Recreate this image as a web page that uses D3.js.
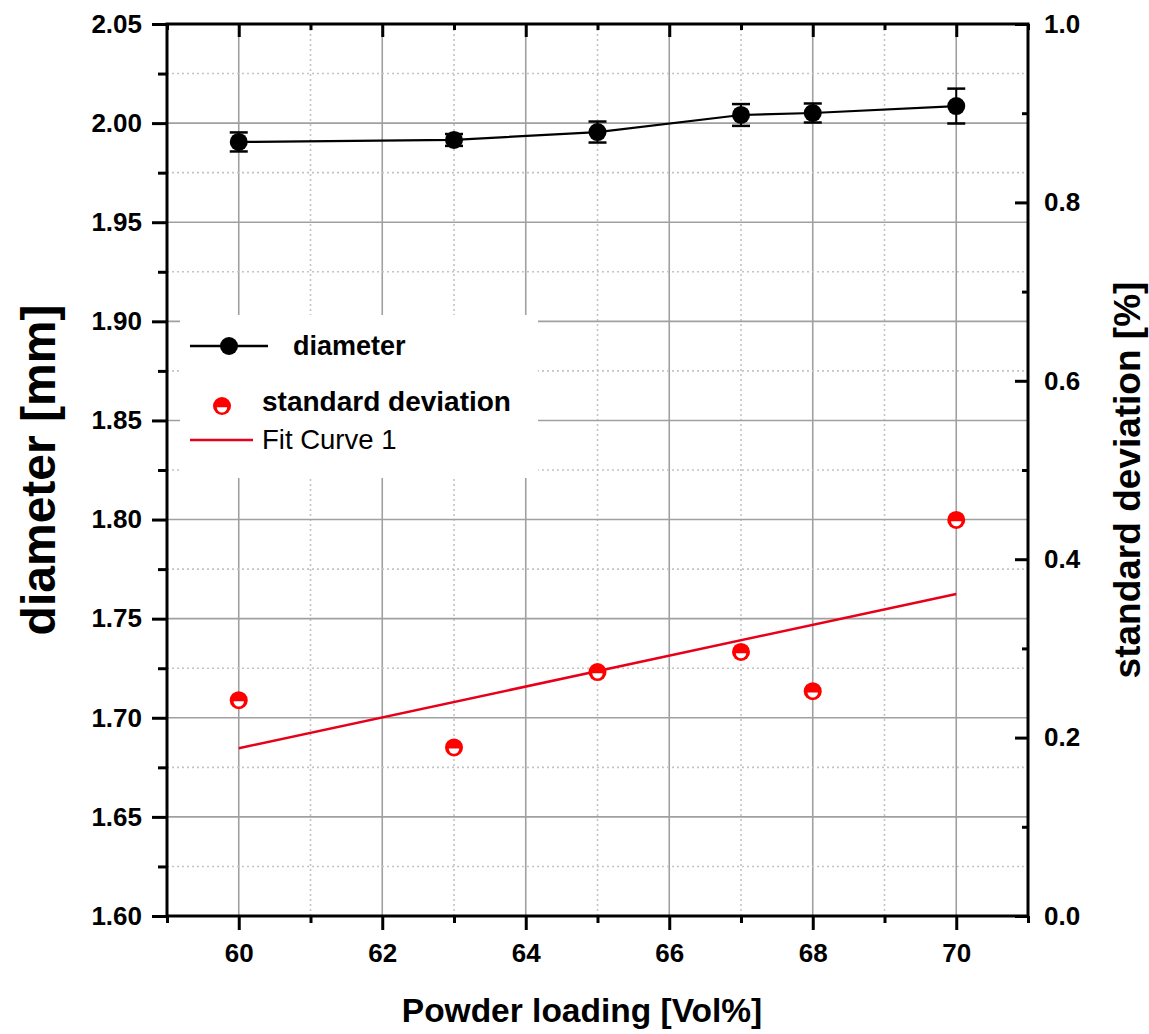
<!DOCTYPE html>
<html>
<head>
<meta charset="utf-8">
<script src="https://cdn.jsdelivr.net/npm/d3@7"></script>
<style>
  body { margin: 0; background: #fff; }
  svg { display: block; font-family: "Liberation Sans", Arial, sans-serif; }
</style>
</head>
<body>
<svg id="chart" width="1149" height="1034"></svg>
<script>
// ---- data ----
const loading = [60, 63, 65, 67, 68, 70];
const diameter = [1.9905, 1.9915, 1.9955, 2.0041, 2.0051, 2.0086];
const diameterErr = [0.0048, 0.0030, 0.0053, 0.0055, 0.0048, 0.0088];
const stdDev = [0.242, 0.189, 0.2735, 0.296, 0.252, 0.444];
const fitX = [60, 70];
const fitY = [0.188, 0.361];
const xMajorTicks = [60, 62, 64, 66, 68, 70];
const xMinorTicks = [59, 61, 63, 65, 67, 69, 71];
const yLeftMajorTicks = [1.60, 1.65, 1.70, 1.75, 1.80, 1.85, 1.90, 1.95, 2.00, 2.05];
const yLeftMinorTicks = [1.625, 1.675, 1.725, 1.775, 1.825, 1.875, 1.925, 1.975, 2.025];
const yRightMajorTicks = [0.0, 0.2, 0.4, 0.6, 0.8, 1.0];
const yRightMinorTicks = [0.1, 0.3, 0.5, 0.7, 0.9];

const svg = d3.select("#chart");
const L = 167, R = 1028, T = 24, B = 916;

const x = d3.scaleLinear().domain([59, 71]).range([L, R]);
const yL = d3.scaleLinear().domain([1.60, 2.05]).range([B, T]);
const yR = d3.scaleLinear().domain([0, 1]).range([B, T]);

// ---- grid ----
const grid = svg.append("g");
grid.selectAll(".vmaj").data(xMajorTicks).join("line")
  .attr("x1", d => x(d)).attr("x2", d => x(d)).attr("y1", T).attr("y2", B)
  .attr("stroke", "#a0a0a0").attr("stroke-width", 1.6);
grid.selectAll(".vmin").data(xMinorTicks.filter(d => d > 59 && d < 71)).join("line")
  .attr("x1", d => x(d)).attr("x2", d => x(d)).attr("y1", T).attr("y2", B)
  .attr("stroke", "#c4c4c4").attr("stroke-width", 1.6).attr("stroke-dasharray", "2,3");
grid.selectAll(".hmaj").data(yLeftMajorTicks.filter(d => d > 1.6 && d < 2.05)).join("line")
  .attr("y1", d => yL(d)).attr("y2", d => yL(d)).attr("x1", L).attr("x2", R)
  .attr("stroke", "#a0a0a0").attr("stroke-width", 1.6);
grid.selectAll(".hmin").data(yLeftMinorTicks).join("line")
  .attr("y1", d => yL(d)).attr("y2", d => yL(d)).attr("x1", L).attr("x2", R)
  .attr("stroke", "#c4c4c4").attr("stroke-width", 1.6).attr("stroke-dasharray", "2,3");

// ---- legend background (covers grid) ----
svg.append("rect").attr("x", 180).attr("y", 315).attr("width", 358).attr("height", 163)
  .attr("fill", "#fff");

// ---- axes ----
function styleAxis(g, fontSize) {
  g.select(".domain").remove();
  g.selectAll(".tick line").attr("stroke", "#000").attr("stroke-width", 3);
  g.selectAll(".tick text").attr("fill", "#000").attr("font-size", fontSize)
    .attr("font-weight", "bold").attr("font-family", "'Liberation Sans', Arial, sans-serif");
}
// left
svg.append("g").attr("transform", `translate(${L},0)`)
  .call(d3.axisLeft(yL).tickValues(yLeftMajorTicks).tickSize(15).tickPadding(10).tickFormat(d3.format(".2f")))
  .call(g => styleAxis(g, 26));
svg.append("g").attr("transform", `translate(${L},0)`)
  .call(d3.axisLeft(yL).tickValues(yLeftMinorTicks).tickSize(9).tickFormat(""))
  .call(g => styleAxis(g, 26));
// bottom
svg.append("g").attr("transform", `translate(0,${B})`)
  .call(d3.axisBottom(x).tickValues(xMajorTicks).tickSize(14).tickPadding(14).tickFormat(d3.format("d")))
  .call(g => styleAxis(g, 26));
svg.append("g").attr("transform", `translate(0,${B})`)
  .call(d3.axisBottom(x).tickValues(xMinorTicks).tickSize(7).tickFormat(""))
  .call(g => styleAxis(g, 26));
// top (inward)
svg.append("g").attr("transform", `translate(0,${T})`)
  .call(d3.axisTop(x).tickValues(xMajorTicks).tickSize(-13).tickFormat(""))
  .call(g => styleAxis(g, 26));
svg.append("g").attr("transform", `translate(0,${T})`)
  .call(d3.axisTop(x).tickValues(xMinorTicks).tickSize(-6).tickFormat(""))
  .call(g => styleAxis(g, 26));
// right (inward ticks, outside labels)
svg.append("g").attr("transform", `translate(${R},0)`)
  .call(d3.axisRight(yR).tickValues(yRightMajorTicks).tickSize(-13).tickPadding(16).tickFormat(d3.format(".1f")))
  .call(g => styleAxis(g, 26));
svg.append("g").attr("transform", `translate(${R},0)`)
  .call(d3.axisRight(yR).tickValues(yRightMinorTicks).tickSize(-6).tickFormat(""))
  .call(g => styleAxis(g, 26));

// frame
svg.append("rect").attr("x", L).attr("y", T).attr("width", R - L).attr("height", B - T)
  .attr("fill", "none").attr("stroke", "#000").attr("stroke-width", 3);

// ---- diameter series ----
const dia = loading.map((v, i) => ({ x: v, y: diameter[i], e: diameterErr[i] }));
svg.append("path").datum(dia)
  .attr("d", d3.line().x(d => x(d.x)).y(d => yL(d.y)))
  .attr("fill", "none").attr("stroke", "#000").attr("stroke-width", 2.2);
const eb = svg.append("g");
eb.selectAll(".ev").data(dia).join("line")
  .attr("x1", d => x(d.x)).attr("x2", d => x(d.x))
  .attr("y1", d => yL(d.y - d.e)).attr("y2", d => yL(d.y + d.e))
  .attr("stroke", "#000").attr("stroke-width", 2);
eb.selectAll(".ct").data(dia).join("line")
  .attr("x1", d => x(d.x) - 9).attr("x2", d => x(d.x) + 9)
  .attr("y1", d => yL(d.y + d.e)).attr("y2", d => yL(d.y + d.e))
  .attr("stroke", "#000").attr("stroke-width", 2.5);
eb.selectAll(".cb").data(dia).join("line")
  .attr("x1", d => x(d.x) - 9).attr("x2", d => x(d.x) + 9)
  .attr("y1", d => yL(d.y - d.e)).attr("y2", d => yL(d.y - d.e))
  .attr("stroke", "#000").attr("stroke-width", 2.5);
svg.append("g").selectAll("circle").data(dia).join("circle")
  .attr("cx", d => x(d.x)).attr("cy", d => yL(d.y)).attr("r", 9).attr("fill", "#000");

// ---- fit line ----
const fit = fitX.map((v, i) => ({ x: v, y: fitY[i] }));
svg.append("path").datum(fit)
  .attr("d", d3.line().x(d => x(d.x)).y(d => yR(d.y)))
  .attr("fill", "none").attr("stroke", "#e8001a").attr("stroke-width", 2.5);

// ---- std dev markers (half-filled) ----
function halfMarker(g) {
  g.append("circle").attr("r", 9).attr("fill", "#f00");
  g.append("path").attr("d", "M-5.2,1.2 A5.2,5.2 0 0 0 5.2,1.2 Z").attr("fill", "#fff");
}
const sd = loading.map((v, i) => ({ x: v, y: stdDev[i] }));
svg.append("g").selectAll("g").data(sd).join("g")
  .attr("transform", d => `translate(${x(d.x)},${yR(d.y)})`)
  .each(function () { halfMarker(d3.select(this)); });

// ---- legend ----
const lg = svg.append("g");
lg.append("line").attr("x1", 190).attr("x2", 268).attr("y1", 346).attr("y2", 346)
  .attr("stroke", "#000").attr("stroke-width", 2.5);
lg.append("circle").attr("cx", 229).attr("cy", 346).attr("r", 9).attr("fill", "#000");
lg.append("text").attr("x", 293).attr("y", 355).text("diameter")
  .attr("font-size", 27).attr("font-weight", "bold");
const lm = lg.append("g").attr("transform", "translate(222,406)");
halfMarker(lm);
lg.append("text").attr("x", 262).attr("y", 411).text("standard deviation")
  .attr("font-size", 28).attr("font-weight", "bold");
lg.append("line").attr("x1", 190).attr("x2", 253).attr("y1", 440).attr("y2", 440)
  .attr("stroke", "#e8001a").attr("stroke-width", 2.5);
lg.append("text").attr("x", 262).attr("y", 449).text("Fit Curve 1")
  .attr("font-size", 27.5);

// ---- axis titles ----
svg.append("text").attr("x", 582).attr("y", 1022).attr("text-anchor", "middle")
  .attr("font-size", 33.5).attr("font-weight", "bold").text("Powder loading [Vol%]");
svg.append("text").attr("transform", `translate(55,470) rotate(-90)`).attr("text-anchor", "middle")
  .attr("font-size", 48).attr("font-weight", "bold").text("diameter [mm]");
svg.append("text").attr("transform", `translate(1140,480) rotate(-90)`).attr("text-anchor", "middle")
  .attr("font-size", 37).attr("font-weight", "bold").text("standard deviation [%]");
</script>
</body>
</html>
